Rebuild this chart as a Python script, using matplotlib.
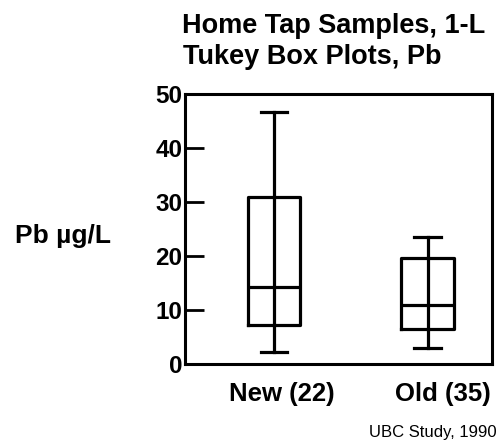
import matplotlib
matplotlib.use("Agg")
import matplotlib.pyplot as plt

# Werte (Pb in µg/L)
gruppen = ["New (22)", "Old (35)"]
wisk_unten = [2.3, 3.0]
q1 = [7.2, 6.4]
median = [14.3, 11.0]
q3 = [31.0, 19.6]
wisk_oben = [46.7, 23.5]

y_ticks = [0, 10, 20, 30, 40, 50]

plt.rcParams['font.family'] = ['Liberation Sans', 'DejaVu Sans']
plt.rcParams['font.weight'] = 'bold'

fig = plt.figure(figsize=(5.03, 4.46), dpi=100)
ax = fig.add_axes([185 / 503, 82 / 446, 307 / 503, 270 / 446])

stats = []
for i in range(len(gruppen)):
    stats.append({
        "whislo": wisk_unten[i], "q1": q1[i], "med": median[i],
        "q3": q3[i], "whishi": wisk_oben[i], "fliers": [],
    })

lw = 2.3
ax.bxp(stats, positions=[1, 2], widths=0.34, showfliers=False,
       boxprops=dict(color="black", linewidth=lw),
       medianprops=dict(color="black", linewidth=lw),
       whiskerprops=dict(color="black", linewidth=lw),
       capprops=dict(color="black", linewidth=lw),
       capwidths=0.17, manage_ticks=False)

# Whisker läuft durch die Box durch
for i in range(len(gruppen)):
    ax.plot([i + 1, i + 1], [q1[i], q3[i]], color="black", linewidth=lw)

ax.set_xlim(0.42, 2.42)
ax.set_ylim(0, 50)
ax.set_yticks(y_ticks)
ax.set_yticklabels([str(t) for t in y_ticks], fontsize=17.5, fontweight='bold')
ax.tick_params(axis='y', direction='in', length=14, width=2, pad=2)
ax.set_xticks([1.05, 2.1])
ax.set_xticklabels(gruppen, fontsize=18.5, fontweight='bold')
ax.tick_params(axis='x', length=0, pad=13)
for s in ax.spines.values():
    s.set_linewidth(2.2)

fig.text(182 / 503, 1 - 33 / 446, "Home Tap Samples, 1-L", fontsize=19.5,
         fontweight='bold', ha='left', va='baseline')
fig.text(183 / 503, 1 - 64 / 446, "Tukey Box Plots, Pb", fontsize=19.5,
         fontweight='bold', ha='left', va='baseline')
fig.text(15 / 503, 1 - 243 / 446, "Pb µg/L", fontsize=19,
         fontweight='bold', ha='left', va='baseline')
fig.text(497 / 503, 1 - 437 / 446, "UBC Study, 1990", fontsize=12,
         fontweight='normal', ha='right', va='baseline')

fig.savefig("out.png", dpi=100)
